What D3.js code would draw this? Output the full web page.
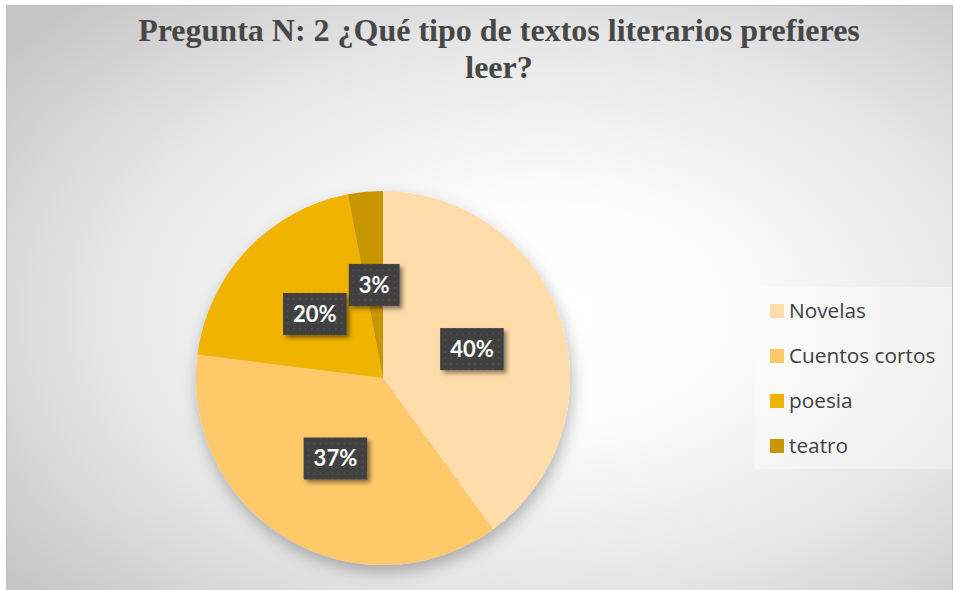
<!DOCTYPE html>
<html>
<head>
<meta charset="utf-8">
<script src="https://cdn.jsdelivr.net/npm/d3@7"></script>
<style>
  html, body { margin: 0; padding: 0; background: #ffffff; }
  svg { display: block; }
</style>
</head>
<body>
<svg id="chart" width="955" height="590"></svg>
<script>
// ---- data ----
const titleLines = ["Pregunta N: 2 ¿Qué tipo de textos literarios prefieres", "leer?"];
const categories = ["Novelas", "Cuentos cortos", "poesia", "teatro"];
const values = [40, 37, 20, 3];
const valueLabels = ["40%", "37%", "20%", "3%"];
const colors = ["#FFDCA9", "#FFC96B", "#F0B400", "#C89600"];

// ---- layout ----
const W = 955, H = 590;
const svg = d3.select("#chart");
const defs = svg.append("defs");

const bg = defs.append("radialGradient").attr("id", "bgGrad")
  .attr("cx", 0.57).attr("cy", 0.52).attr("r", 0.72);
[[0, "#ffffff"], [0.25, "#fdfdfd"], [0.65, "#e6e6e6"], [1, "#c6c6c6"]].forEach(s =>
  bg.append("stop").attr("offset", s[0]).attr("stop-color", s[1]));

const pieShadow = defs.append("filter").attr("id", "pieShadow")
  .attr("x", "-20%").attr("y", "-20%").attr("width", "140%").attr("height", "140%");
pieShadow.append("feDropShadow").attr("dx", 2).attr("dy", 7).attr("stdDeviation", 8)
  .attr("flood-color", "#000").attr("flood-opacity", 0.28);

const lblShadow = defs.append("filter").attr("id", "lblShadow")
  .attr("x", "-30%").attr("y", "-30%").attr("width", "160%").attr("height", "160%");
lblShadow.append("feDropShadow").attr("dx", 3).attr("dy", 3).attr("stdDeviation", 2)
  .attr("flood-color", "#000").attr("flood-opacity", 0.45);

const pat = defs.append("pattern").attr("id", "dots")
  .attr("patternUnits", "userSpaceOnUse").attr("width", 6).attr("height", 6);
pat.append("rect").attr("width", 6).attr("height", 6).attr("fill", "#3f3f3f");
pat.append("rect").attr("x", 2).attr("y", 2).attr("width", 2).attr("height", 2).attr("fill", "#4d4d4d");

// chart area
svg.append("rect")
  .attr("x", 6.5).attr("y", 5.5).attr("width", 946).attr("height", 590)
  .attr("fill", "url(#bgGrad)").attr("stroke", "#bfbfbf").attr("stroke-width", 1);

// title
const title = svg.append("text")
  .attr("text-anchor", "middle")
  .attr("font-family", "'Liberation Serif', 'Times New Roman', serif")
  .attr("font-weight", "bold").attr("font-size", 32).attr("fill", "#474747");
titleLines.forEach((t, i) =>
  title.append("tspan").attr("x", 499).attr("y", 41 + i * 36.6).text(t));

// pie
const cx = 383, cy = 378, R = 187;
const pie = d3.pie().sort(null).value(d => d.value).startAngle(0).endAngle(2 * Math.PI);
const data = categories.map((c, i) => ({ name: c, value: values[i], label: valueLabels[i], color: colors[i] }));
const arcs = pie(data);
const arc = d3.arc().innerRadius(0).outerRadius(R);
const color = d3.scaleOrdinal().domain(categories).range(colors);

const g = svg.append("g").attr("transform", `translate(${cx},${cy})`);
g.append("g").attr("filter", "url(#pieShadow)")
  .selectAll("path").data(arcs).join("path")
  .attr("d", arc)
  .attr("fill", d => color(d.data.name));

// data labels
const lg = g.append("g");
arcs.forEach(d => {
  const [x, y] = arc.centroid(d);
  const grp = lg.append("g").attr("transform", `translate(${x},${y})`);
  const box = grp.append("rect").attr("filter", "url(#lblShadow)").attr("fill", "url(#dots)");
  const txt = grp.append("text")
    .attr("text-anchor", "middle").attr("y", 8)
    .attr("font-family", "Lato, 'Open Sans', sans-serif")
    .attr("font-weight", "bold").attr("font-size", 22).attr("fill", "#ffffff")
    .text(d.data.label);
  const w = txt.node().getComputedTextLength() + 20;
  box.attr("x", -w / 2).attr("y", -21).attr("width", w).attr("height", 42);
});

// legend
const leg = svg.append("g");
leg.append("rect").attr("x", 755).attr("y", 287).attr("width", 197).attr("height", 182)
  .attr("fill", "#ffffff").attr("fill-opacity", 0.38);
const ly = d3.scalePoint().domain(categories).range([304, 439]);
categories.forEach((c, i) => {
  leg.append("rect").attr("x", 770).attr("y", ly(c)).attr("width", 14).attr("height", 14)
    .attr("fill", color(c));
  leg.append("text").attr("x", 789).attr("y", ly(c) + 14)
    .attr("font-family", "'Open Sans', sans-serif").attr("font-size", 20.8).attr("fill", "#404040")
    .text(c);
});
</script>
</body>
</html>
